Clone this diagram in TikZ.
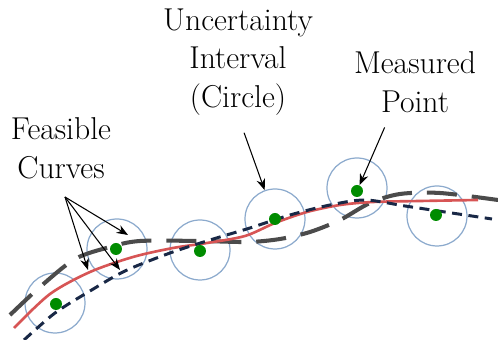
\documentclass[tikz,border=0pt]{standalone}
\usepackage{fontspec}
\usetikzlibrary{arrows.meta,positioning}

\definecolor{intervalblue}{RGB}{140,170,205}
\definecolor{pointgreen}{RGB}{0,140,0}
\definecolor{curvenavy}{RGB}{25,40,70}
\definecolor{curvered}{RGB}{215,85,85}
\definecolor{curvegray}{RGB}{75,75,75}

\tikzset{
  interval/.style={circle, draw=intervalblue, line width=0.7pt, minimum size=1.2cm, inner sep=0pt},
  measured/.style={circle, fill=pointgreen, minimum size=0.24cm, inner sep=0pt},
  callout/.style={font=\rmfamily\fontsize{18}{22}\selectfont, align=center, inner sep=0pt},
  pointer/.style={-{Stealth[length=6.5pt,width=5pt]}, line width=0.6pt},
}

\begin{document}
\begin{tikzpicture}[x=0.02cm, y=-0.02cm]
    \useasboundingbox (0,0) rectangle (498,340);

    % Uncertainty circles
    \foreach \i/\x/\y in {1/55/303, 2/117/249, 3/200/250, 4/275/219, 5/357/188, 6/437/216}
        \node[interval] (c\i) at (\x,\y) {};

    % Feasible curves
    \draw[curvegray, line width=2.3pt, dash pattern=on 0.6cm off 0.3cm] plot[smooth] coordinates
        {(10,315) (40,287) (75,259) (110,247) (140,241) (200,241) (248,242) (280,239)
         (310,232) (340,220) (370,203) (400,194) (440,193) (498,200)};
    \draw[curvered, line width=1.5pt] plot[smooth] coordinates
        {(14,328) (50,294) (90,272) (133,257) (173,248) (207,243) (245,236) (275,223)
         (307,212) (340,205) (373,202) (420,201) (478,200)};
    \draw[curvenavy, line width=1.7pt, dash pattern=on 0.2cm off 0.13cm] plot[smooth] coordinates
        {(24,340) (55,313) (90,291) (125,271) (170,253) (210,240) (250,228) (290,215)
         (330,205) (365,200) (405,206) (445,212) (492,219)};

    % Measured points
    \foreach \i/\x/\y in {1/56/304, 2/116/249, 3/200/251, 4/275/219, 5/357/191, 6/436/215}
        \node[measured] (p\i) at (\x,\y) {};

    % Labels
    \node[callout] (unc) at (238,62) {Uncertainty\\Interval\\(Circle)};
    \node[callout] (meas) at (415,82) {Measured\\Point};
    \node[callout] (feas) at (61,148) {Feasible\\Curves};

    \coordinate (fork) at (65,197);
    \coordinate (fc1) at (128,235);
    \coordinate (fc2) at (88,270);
    \coordinate (fc3) at (120,270);

    \draw[pointer, shorten <=0.36cm] (unc.south) -- (c4);
    \draw[pointer, shorten <=0.32cm] ([xshift=-0.48cm]meas.south) -- (p5);
    \draw[pointer] (fork) -- (fc1);
    \draw[pointer] (fork) -- (fc2);
    \draw[pointer] (fork) -- (fc3);
\end{tikzpicture}
\end{document}
